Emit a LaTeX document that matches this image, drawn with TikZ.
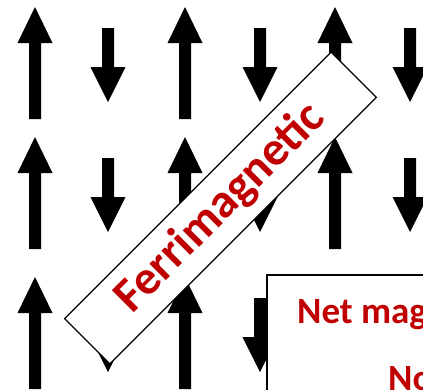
\documentclass[tikz,border=0pt]{standalone}
\usepackage{fontspec}
\setmainfont{Carlito}
\definecolor{labelred}{HTML}{C00000}
\tikzset{
  uparr/.pic={\fill[black] (0,0) -- (17.5,36) -- (6,36) -- (6,112) -- (-6,112) -- (-6,36) -- (-17.5,36) -- cycle;},
  downarr/.pic={\fill[black] (-6,0) -- (6,0) -- (6,39) -- (17.5,39) -- (0,74) -- (-17.5,39) -- (-6,39) -- cycle;},
  ferribox/.style={draw=black, line width=1.2pt, fill=white, text=labelred, inner sep=0pt,
    minimum width=377pt, minimum height=64pt, font=\fontsize{48}{52}\selectfont\bfseries},
  nettext/.style={text=labelred, inner sep=0pt, font=\fontsize{37}{40}\selectfont\bfseries}
}
\begin{document}
\begin{tikzpicture}[x=1pt,y=-1pt]
\useasboundingbox (0,0) rectangle (423,389);
\clip (0,0) rectangle (423,389);
% row 1
\pic at (35,7) {uparr};
\pic at (108,28) {downarr};
\pic at (185,7) {uparr};
\pic at (260,28) {downarr};
\pic at (335,7) {uparr};
\pic at (410,28) {downarr};
% row 2
\pic at (35,137) {uparr};
\pic at (108,158) {downarr};
\pic at (185,137) {uparr};
\pic at (260,158) {downarr};
\pic at (335,137) {uparr};
\pic at (410,158) {downarr};
% row 3
\pic at (35,277) {uparr};
\pic at (108,298) {downarr};
\pic at (185,277) {uparr};
\pic at (260,298) {downarr};
\pic at (335,277) {uparr};
\pic at (410,298) {downarr};
% net box
\draw[line width=1.5pt, fill=white] (267,275) rectangle (445,410);
\node[nettext, anchor=base west] (net) at (297,323) {Net mag};
\node[nettext, anchor=base west] (no) at (388,390) {No};
% rotated label
\node[ferribox, rotate=45] (ferri) at (220.5,208) {Ferrimagnetic};
\end{tikzpicture}
\end{document}
